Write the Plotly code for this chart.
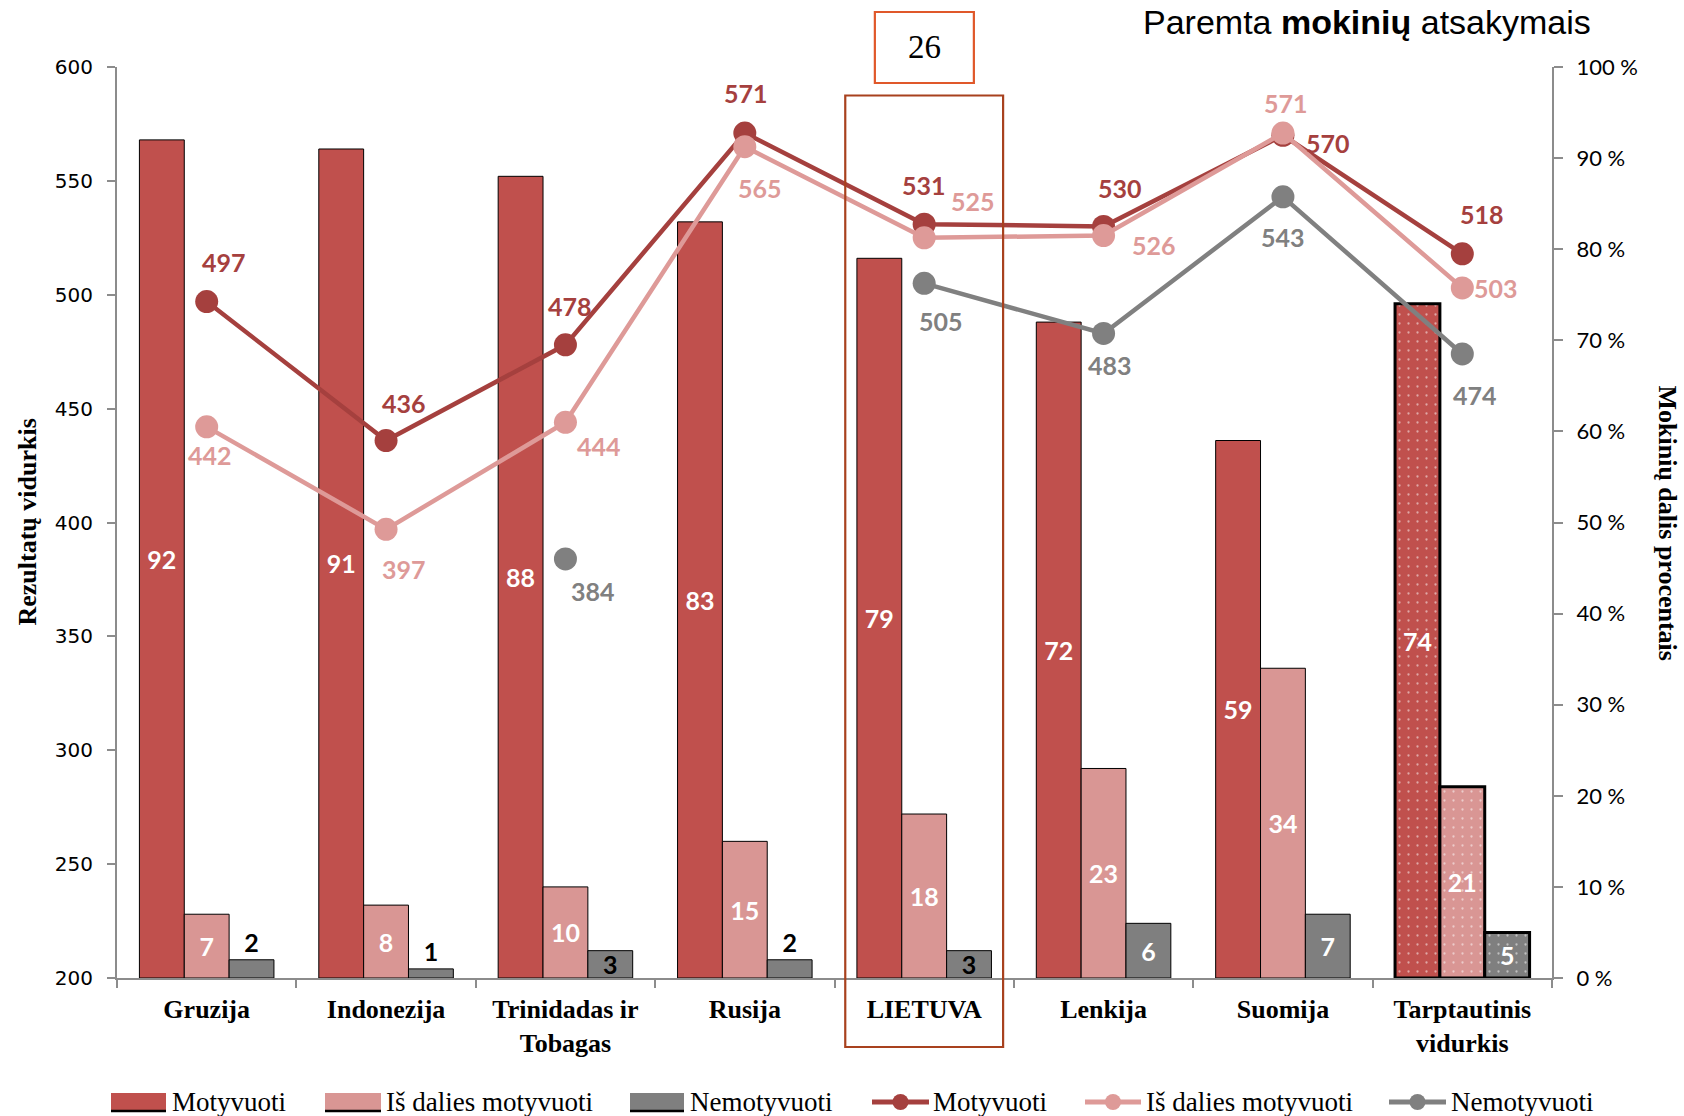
import plotly.graph_objects as go

# ---------------- data ----------------
categories = ["Gruzija", "Indonezija", "Trinidadas ir<br>Tobagas", "Rusija",
              "LIETUVA", "Lenkija", "Suomija", "Tarptautinis<br>vidurkis"]

share_motyvuoti = [92, 91, 88, 83, 79, 72, 59, 74]
share_is_dalies = [7, 8, 10, 15, 18, 23, 34, 21]
share_nemotyvuoti = [2, 1, 3, 2, 3, 6, 7, 5]

score_motyvuoti = [497, 436, 478, 571, 531, 530, 570, 518]
score_is_dalies = [442, 397, 444, 565, 525, 526, 571, 503]
score_nemotyvuoti = [None, None, 384, None, 505, 483, 543, 474]

series_names = ["Motyvuoti", "Iš dalies motyvuoti", "Nemotyvuoti"]
left_ticks = [200, 250, 300, 350, 400, 450, 500, 550, 600]
right_ticks = [0, 10, 20, 30, 40, 50, 60, 70, 80, 90, 100]
right_tick_text = [f"{v} %" for v in right_ticks]
page_number = "26"

# ---------------- styles ----------------
BAR_COLORS = ["#C0504D", "#D99694", "#7F7F7F"]
LINE_COLORS = ["#A5403E", "#DE9A98", "#808080"]
LABEL_FONT = "Lato"
SERIF = "Liberation Serif"
AXIS_COLOR = "#8C8C8C"
S = 1.074  # reference scaling

# plot-area geometry (pixels)
L, R, T, B = 117, 132, 67, 138
W, H = 1684, 1116
PW = W - L - R
PH = H - T - B


def px_x(px):
    return (px - L) / PW


def px_y(py):
    return (H - B - py) / PH


# label offsets (dx, dy) in reference px for each line point
off_mot = [(16, -37), (17, -35), (4, -36), (1, -37), (0, -36), (15, -36), (42, 7), (18, -37)]
off_dal = [(3, 26), (17, 37), (31, 22), (14, 38), (45, -34), (47, 9), (3, -28), (31, 0)]
off_nem = [None, None, (26, 30), None, (16, 35), (6, 29), (0, 37), (12, 38)]

fig = go.Figure()

n = len(categories)
line_w = [1] * (n - 1) + [3]
pattern_shapes = [""] * (n - 1) + ["."]

bar_data = [share_motyvuoti, share_is_dalies, share_nemotyvuoti]
for i, vals in enumerate(bar_data):
    if i < 2:
        tpos = ["inside"] * n
        tcol = ["white"] * n
    else:
        tpos = ["outside" if v <= 2 else "inside" for v in vals]
        tcol = ["black" if v <= 3 else "white" for v in vals]
    fig.add_trace(go.Bar(
        x=categories, y=vals, name=series_names[i], yaxis="y",
        marker=dict(color=BAR_COLORS[i],
                    line=dict(color="black", width=line_w),
                    pattern=dict(shape=pattern_shapes, fgcolor="white",
                                 size=9, solidity=0.05)),
        text=[str(v) for v in vals], textposition=tpos,
        insidetextanchor="middle", textangle=0, constraintext="none",
        textfont=dict(family=LABEL_FONT, size=25, color=tcol, weight="bold"),
        cliponaxis=False, hoverinfo="skip", showlegend=False,
    ))

line_data = [score_motyvuoti, score_is_dalies, score_nemotyvuoti]
for i, vals in enumerate(line_data):
    fig.add_trace(go.Scatter(
        x=categories, y=vals, name=series_names[i], yaxis="y2",
        mode="lines+markers", connectgaps=False,
        line=dict(color=LINE_COLORS[i], width=4.5),
        marker=dict(color=LINE_COLORS[i], size=23),
        cliponaxis=False, hoverinfo="skip", showlegend=False,
    ))

annotations = []
for vals, offs, col in zip(line_data, [off_mot, off_dal, off_nem], LINE_COLORS):
    for c, v, o in zip(categories, vals, offs):
        if v is None or o is None:
            continue
        annotations.append(dict(
            x=c, y=v, xref="x", yref="y2", text=str(v), showarrow=False,
            xshift=o[0] * S, yshift=-o[1] * S,
            font=dict(family=LABEL_FONT, size=25, color=col, weight="bold"),
        ))

# axis titles
annotations.append(dict(x=px_x(27), y=0.5, xref="paper", yref="paper",
                        xanchor="center", yanchor="middle",
                        text="Rezultatų vidurkis", textangle=-90, showarrow=False,
                        font=dict(family=SERIF, size=26, color="black", weight="bold")))
annotations.append(dict(x=px_x(1667), y=0.5, xref="paper", yref="paper",
                        xanchor="center", yanchor="middle",
                        text="Mokinių dalis procentais", textangle=90, showarrow=False,
                        font=dict(family=SERIF, size=26, color="black", weight="bold")))
# header
annotations.append(dict(x=px_x(1593), y=px_y(22), xref="paper", yref="paper",
                        xanchor="right", yanchor="middle",
                        text="Paremta <b>mokinių</b> atsakymais", showarrow=False,
                        font=dict(family="Liberation Sans", size=34, color="black")))
# page number
annotations.append(dict(x=categories[4], y=px_y(47), xref="x", yref="paper",
                        xanchor="center", yanchor="middle",
                        text=page_number, showarrow=False,
                        font=dict(family=SERIF, size=33, color="black")))

shapes = [
    dict(type="rect", xref="x", yref="paper", x0=3.56, x1=4.44,
         y0=px_y(1047), y1=px_y(95.5),
         line=dict(color="#A8411E", width=2.2), fillcolor="rgba(0,0,0,0)", layer="above"),
    dict(type="rect", xref="x", yref="paper", x0=3.725, x1=4.277,
         y0=px_y(83), y1=px_y(12),
         line=dict(color="#E0582A", width=2.2), fillcolor="white", layer="above"),
]

# ---------------- custom legend (drawn below the plot) ----------------
leg_y = px_y(1102)
sw_top, sw_bot = px_y(1093), px_y(1111)
bar_swatches = [(111, 166), (325, 381), (630, 684)]
line_swatches = [(872, 929), (1085, 1141), (1389, 1446)]
text_left = [170, 384, 688, 931, 1144, 1449]

for i, (a, b) in enumerate(bar_swatches):
    shapes.append(dict(type="rect", xref="paper", yref="paper",
                       x0=px_x(a), x1=px_x(b), y0=sw_bot, y1=sw_top,
                       fillcolor=BAR_COLORS[i], line=dict(width=0)))
    shapes.append(dict(type="line", xref="paper", yref="paper",
                       x0=px_x(a), x1=px_x(b), y0=sw_bot, y1=sw_bot,
                       line=dict(color="black", width=2.5)))
for i, (a, b) in enumerate(line_swatches):
    shapes.append(dict(type="line", xref="paper", yref="paper",
                       x0=px_x(a), x1=px_x(b), y0=leg_y, y1=leg_y,
                       line=dict(color=LINE_COLORS[i], width=5)))
    shapes.append(dict(type="circle", xref="paper", yref="paper",
                       xsizemode="pixel", ysizemode="pixel",
                       xanchor=px_x((a + b) / 2), yanchor=leg_y,
                       x0=-8, x1=8, y0=-8, y1=8,
                       fillcolor=LINE_COLORS[i], line=dict(width=0)))

legend_labels = series_names + series_names
for i, name in enumerate(legend_labels):
    annotations.append(dict(x=px_x(text_left[i]), y=leg_y, xref="paper", yref="paper",
                            xanchor="left", yanchor="middle", text=name,
                            showarrow=False,
                            font=dict(family=SERIF, size=27, color="black")))

fig.update_layout(
    width=W, height=H,
    margin=dict(l=L, r=R, t=T, b=B),
    paper_bgcolor="white", plot_bgcolor="white",
    barmode="group", bargap=0.25, bargroupgap=0,
    showlegend=False,
    xaxis=dict(type="category", showline=True, linecolor=AXIS_COLOR, linewidth=2,
               ticks="outside", tickson="boundaries", ticklen=8, tickcolor=AXIS_COLOR,
               tickwidth=2, showgrid=False, automargin=False, ticklabelstandoff=7,
               tickfont=dict(family=SERIF, size=26, color="black", weight="bold")),
    yaxis=dict(range=[0, 100], side="right", showline=True, linecolor=AXIS_COLOR,
               linewidth=2, ticks="outside", ticklen=9, tickcolor=AXIS_COLOR, tickwidth=2,
               tickvals=right_ticks, ticktext=right_tick_text, showgrid=False,
               zeroline=False, automargin=False, ticklabelstandoff=9,
               tickfont=dict(family=LABEL_FONT, size=22, color="black")),
    yaxis2=dict(range=[200, 600], overlaying="y", side="left", showline=True,
                linecolor=AXIS_COLOR, linewidth=2, ticks="outside", ticklen=8,
                tickcolor=AXIS_COLOR, tickwidth=2, tickvals=left_ticks,
                showgrid=False, zeroline=False, automargin=False, ticklabelstandoff=10,
                tickfont=dict(family="DejaVu Sans", size=20, color="black")),
    annotations=annotations,
    shapes=shapes,
)

fig.write_html("out.html",
               config={"displayModeBar": False},
               post_script="document.body.style.margin='0px';document.body.style.overflow='hidden';")
